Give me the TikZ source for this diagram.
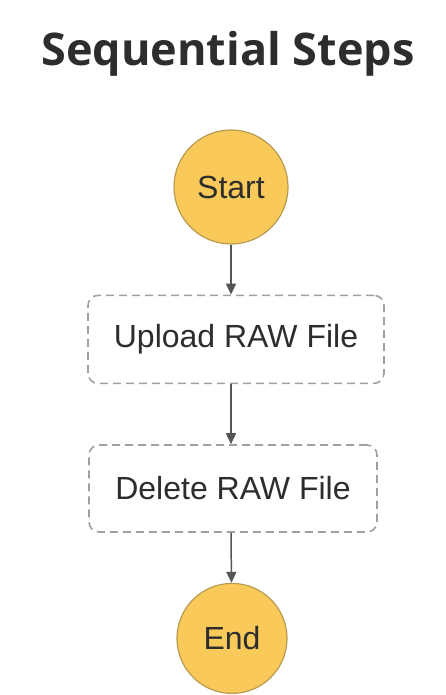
\documentclass[tikz,border=0pt]{standalone}
\usepackage{fontspec}
\setmainfont{Liberation Sans}
\newfontfamily\titlefont{Open Sans}
\usetikzlibrary{arrows.meta,positioning}
\definecolor{stepyellow}{RGB}{249,202,90}
\definecolor{stepedge}{RGB}{185,155,80}
\definecolor{dashgray}{RGB}{160,160,160}
\definecolor{arrowgray}{RGB}{85,85,85}
\definecolor{textdark}{RGB}{45,45,45}
\tikzset{
  endpoint/.style = {circle,draw=stepedge,line width=1.2pt,fill=stepyellow,
                     inner sep=0pt,text=textdark,font=\fontsize{32}{36}\selectfont},
  task/.style     = {draw=dashgray,dashed,dash pattern=on 8pt off 5pt,line width=1.6pt,
                     rounded corners=10pt,fill=white,inner sep=0pt,text=textdark,
                     font=\fontsize{32}{36}\selectfont},
  flow/.style     = {-{Triangle[width=10pt,length=11pt]},line width=1.5pt,color=arrowgray},
}
\begin{document}
\begin{tikzpicture}[x=1pt,y=-1pt]
  \useasboundingbox[fill=white] (0,0) rectangle (445,695);
  \node[font=\titlefont\bfseries\fontsize{45}{50}\selectfont,text=textdark] (title) at (228,54) {Sequential Steps};
  \node[endpoint,minimum size=114pt] (start) at (231,187) {Start};
  \node[task,minimum width=296pt,minimum height=88pt,below=50pt of start,xshift=5pt] (upload) {Upload RAW File};
  \node[task,minimum width=288pt,minimum height=87pt,below=60pt of start.south |- upload.south,xshift=2pt] (delete) {Delete RAW File};
  \node[endpoint,minimum size=110pt,below=50pt of delete,xshift=-1pt] (end) {End};
  \draw[flow] (start) -- (start |- upload.north);
  \draw[flow] (start |- upload.south) -- (start |- delete.north);
  \draw[flow] (start |- delete.south) -- (end);
\end{tikzpicture}
\end{document}
